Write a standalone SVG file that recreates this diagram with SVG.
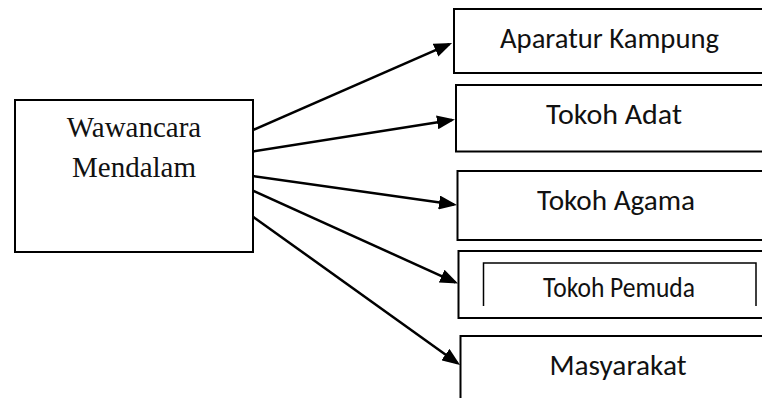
<svg xmlns="http://www.w3.org/2000/svg" width="762" height="398" viewBox="0 0 762 398">
<style>
.box{fill:#fff;stroke:#000;stroke-width:2}
.conn{stroke:#000;stroke-width:2.5;fill:none;marker-end:url(#ah)}
.lt{font-family:"Liberation Serif","Times New Roman",serif;font-size:29px;fill:#111;text-anchor:middle}
.rt{font-family:Calibri,Carlito,"Open Sans",sans-serif;font-size:29px;fill:#111;text-anchor:middle}
</style>
<defs>
<marker id="ah" markerUnits="userSpaceOnUse" markerWidth="18" markerHeight="14" refX="15" refY="7" orient="auto" viewBox="0 0 18 14">
<path d="M0,0 L18,7 L0,14 Z" fill="#000"/>
</marker>
</defs>
<rect width="762" height="398" fill="#fff"/>
<g id="wawancara">
<rect class="box" x="15" y="100" width="238" height="152"/>
<text class="lt" x="134" y="137">Wawancara</text>
<text class="lt" x="134" y="177">Mendalam</text>
</g>
<g id="aparatur">
<rect class="box" x="454" y="9" width="320" height="64" stroke-width="2.5"/>
<text class="rt" x="609.5" y="48" textLength="219" lengthAdjust="spacingAndGlyphs">Aparatur Kampung</text>
</g>
<g id="adat">
<rect class="box" x="456" y="85" width="320" height="66.5"/>
<text class="rt" x="614" y="123.5" textLength="136" lengthAdjust="spacingAndGlyphs">Tokoh Adat</text>
</g>
<g id="agama">
<rect class="box" x="457.5" y="171" width="320" height="69"/>
<text class="rt" x="616" y="210" textLength="158" lengthAdjust="spacingAndGlyphs">Tokoh Agama</text>
</g>
<g id="pemuda">
<rect class="box" x="458.5" y="251" width="320" height="67"/>
<path d="M483.5,306 V263 H756 V306" fill="none" stroke="#000" stroke-width="1.5"/>
<text class="rt" x="619" y="296.5" font-size="25.5" textLength="152" lengthAdjust="spacingAndGlyphs">Tokoh Pemuda</text>
</g>
<g id="masyarakat">
<rect class="box" x="460.5" y="336" width="320" height="80"/>
<text class="rt" x="618" y="375" textLength="137" lengthAdjust="spacingAndGlyphs">Masyarakat</text>
</g>
<g id="connectors">
<line class="conn" x1="253" y1="130" x2="449.3" y2="44.2"/>
<line class="conn" x1="253" y1="151.5" x2="452" y2="120"/>
<line class="conn" x1="253" y1="176" x2="454" y2="204.6"/>
<line class="conn" x1="253" y1="190.7" x2="455.3" y2="282.3"/>
<line class="conn" x1="253" y1="216.7" x2="457.6" y2="363.3"/>
</g>
</svg>
